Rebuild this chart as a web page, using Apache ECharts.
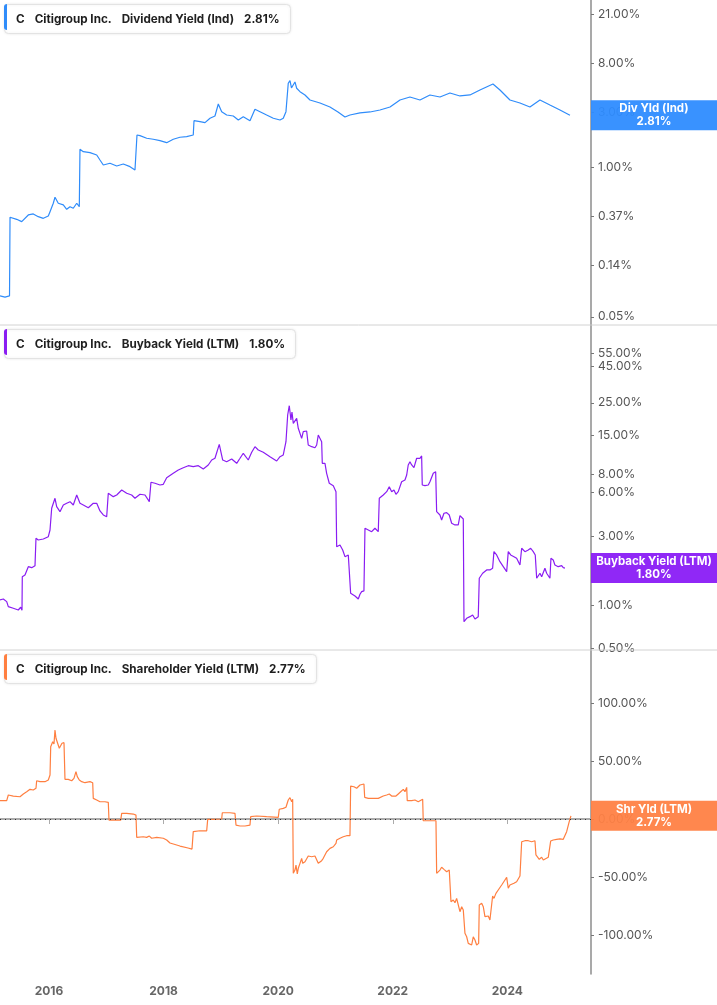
<!DOCTYPE html>
<html><head><meta charset="utf-8">
<script src="https://cdn.jsdelivr.net/npm/echarts@6/dist/echarts.min.js"></script>
<style>html,body{margin:0;padding:0;background:#fff}#c{width:717px;height:1005px}</style>
</head><body><div id="c"></div>
<script>
// ---------- DATA ----------
const companyTicker = 'C';
const companyName = 'Citigroup Inc.';
const seriesNames = ['Dividend Yield (Ind)', 'Buyback Yield (LTM)', 'Shareholder Yield (LTM)'];
const shortNames = ['Div Yld (Ind)', 'Buyback Yield (LTM)', 'Shr Yld (LTM)'];
const lastValues = [2.81, 1.80, 2.77];
const yearTicks = [2016, 2018, 2020, 2022, 2024];
const divTicks = [0.05, 0.14, 0.37, 1, 3, 8, 21];
const bbTicks = [0.5, 1, 3, 6, 8, 15, 25, 45, 55];
const shTicks = [-100, -50, 0, 50, 100];

const divYears = [2015.145,2015.232,2015.311,2015.320,2015.436,2015.524,2015.552,2015.639,2015.726,2015.813,2015.901,2015.988,2016.018,2016.075,2016.105,2016.162,2016.250,2016.309,2016.367,2016.424,2016.484,2016.529,2016.541,2016.599,2016.716,2016.833,2016.890,2016.948,2017.065,2017.182,2017.297,2017.414,2017.501,2017.527,2017.536,2017.588,2017.705,2017.820,2017.937,2018.054,2018.169,2018.286,2018.403,2018.518,2018.531,2018.635,2018.723,2018.810,2018.897,2018.955,2019.014,2019.101,2019.217,2019.304,2019.391,2019.508,2019.595,2019.683,2019.799,2019.915,2020.032,2020.089,2020.136,2020.176,2020.206,2020.232,2020.264,2020.293,2020.323,2020.381,2020.468,2020.555,2020.730,2020.904,2021.044,2021.166,2021.253,2021.428,2021.603,2021.777,2021.952,2022.126,2022.300,2022.475,2022.649,2022.824,2022.998,2023.173,2023.347,2023.522,2023.749,2023.871,2024.045,2024.220,2024.394,2024.569,2024.743,2024.918,2025.093];
const divValues = [0.076,0.074,0.076,0.366,0.351,0.335,0.346,0.383,0.391,0.370,0.358,0.375,0.409,0.484,0.546,0.484,0.468,0.429,0.452,0.438,0.484,0.452,1.425,1.358,1.331,1.271,1.150,1.041,1.077,1.020,1.062,1.006,0.942,0.974,1.896,1.870,1.775,1.740,1.692,1.626,1.740,1.811,1.833,1.896,2.524,2.474,2.425,2.649,2.773,3.525,3.022,2.829,2.773,2.560,2.735,2.524,3.171,3.022,2.829,2.649,2.560,2.649,3.022,5.333,5.618,4.855,4.665,5.474,4.826,4.509,4.221,3.819,3.597,3.320,3.004,2.718,2.829,2.945,3.004,3.127,3.320,3.819,4.055,3.819,4.221,4.055,4.393,4.137,4.221,4.665,5.259,4.665,3.819,3.597,3.320,3.819,3.456,3.127,2.81];

const bbYears = [2015.145,2015.203,2015.262,2015.290,2015.377,2015.464,2015.506,2015.529,2015.534,2015.581,2015.639,2015.698,2015.756,2015.773,2015.813,2015.901,2015.988,2016.018,2016.047,2016.105,2016.134,2016.192,2016.250,2016.309,2016.367,2016.424,2016.484,2016.541,2016.599,2016.686,2016.773,2016.833,2016.890,2016.948,2017.007,2017.035,2017.122,2017.182,2017.269,2017.356,2017.443,2017.501,2017.588,2017.676,2017.751,2017.780,2017.850,2017.937,2017.995,2018.054,2018.169,2018.257,2018.344,2018.431,2018.518,2018.606,2018.693,2018.780,2018.840,2018.897,2018.972,2019.032,2019.101,2019.189,2019.276,2019.334,2019.391,2019.478,2019.538,2019.595,2019.653,2019.740,2019.857,2019.974,2020.032,2020.089,2020.136,2020.166,2020.194,2020.223,2020.241,2020.264,2020.276,2020.323,2020.351,2020.381,2020.410,2020.438,2020.497,2020.525,2020.585,2020.642,2020.672,2020.700,2020.730,2020.759,2020.770,2020.817,2020.846,2020.892,2020.962,2020.991,2021.009,2021.021,2021.079,2021.126,2021.166,2021.224,2021.253,2021.265,2021.341,2021.398,2021.428,2021.457,2021.497,2021.515,2021.573,2021.632,2021.689,2021.747,2021.765,2021.834,2021.894,2021.939,2021.981,2022.021,2022.056,2022.096,2022.155,2022.213,2022.243,2022.270,2022.300,2022.330,2022.370,2022.417,2022.475,2022.504,2022.515,2022.562,2022.620,2022.649,2022.679,2022.707,2022.749,2022.766,2022.824,2022.853,2022.894,2022.941,2022.986,2023.028,2023.086,2023.143,2023.173,2023.203,2023.231,2023.243,2023.290,2023.347,2023.394,2023.435,2023.492,2023.510,2023.569,2023.639,2023.696,2023.743,2023.766,2023.813,2023.871,2023.929,2023.988,2024.016,2024.058,2024.115,2024.162,2024.220,2024.250,2024.307,2024.365,2024.407,2024.452,2024.487,2024.512,2024.540,2024.569,2024.599,2024.656,2024.686,2024.714,2024.743,2024.761,2024.801,2024.830,2024.888,2024.948,2024.976,2025.005];
const bbValues = [1.083,1.100,1.054,0.973,0.949,0.923,0.964,0.919,1.569,1.612,1.840,1.811,1.870,2.892,2.815,2.860,2.967,3.301,4.664,5.469,4.784,4.417,4.914,5.049,5.180,4.914,5.764,5.049,4.914,4.708,5.049,5.049,4.468,4.192,4.080,5.922,5.612,5.764,6.243,5.922,5.764,5.469,5.829,5.764,5.180,7.056,6.945,6.760,6.834,7.593,8.143,8.580,8.903,9.190,9.045,9.190,8.720,9.295,10.06,10.34,12.92,10.06,9.796,10.23,9.545,10.34,11.20,10.06,11.38,12.44,11.80,11.38,10.60,9.904,10.60,10.90,13.47,20.60,23.89,19.03,21.61,18.05,17.57,19.55,16.67,16.23,14.21,15.80,15.97,12.78,12.44,12.24,12.78,14.98,14.58,13.47,9.545,9.545,8.143,6.945,6.686,6.580,6.075,2.530,2.600,2.401,2.158,2.217,2.158,1.205,1.154,1.100,1.186,1.236,1.250,3.391,3.301,3.213,3.391,3.213,5.469,5.764,6.075,6.580,6.075,6.243,5.829,6.075,7.122,7.316,7.925,9.295,9.796,9.295,8.903,10.34,10.34,10.73,6.760,6.686,6.760,7.122,6.945,8.143,8.354,4.417,4.192,3.870,4.306,4.349,4.192,3.673,3.575,3.575,4.145,4.192,3.932,0.766,0.809,0.830,0.853,0.800,0.830,1.530,1.657,1.746,1.746,1.794,2.337,2.217,1.993,1.840,1.699,2.337,2.217,2.158,2.104,1.891,2.467,2.337,2.401,2.467,2.337,2.217,1.530,1.569,1.657,1.569,1.794,1.657,1.631,1.530,2.104,2.048,1.891,1.840,1.870,1.811,1.80];

const shYears = [2015.145,2015.262,2015.290,2015.377,2015.494,2015.552,2015.611,2015.669,2015.726,2015.773,2015.785,2015.843,2015.930,2015.988,2016.018,2016.030,2016.065,2016.087,2016.105,2016.122,2016.145,2016.180,2016.204,2016.227,2016.262,2016.279,2016.309,2016.337,2016.367,2016.396,2016.436,2016.471,2016.494,2016.529,2016.571,2016.628,2016.716,2016.763,2016.773,2016.833,2016.890,2016.977,2017.035,2017.047,2017.122,2017.252,2017.269,2017.356,2017.472,2017.518,2017.531,2017.646,2017.705,2017.751,2017.792,2017.880,2017.995,2018.054,2018.112,2018.286,2018.426,2018.496,2018.518,2018.635,2018.752,2018.770,2018.867,2019.014,2019.025,2019.159,2019.246,2019.264,2019.334,2019.421,2019.508,2019.520,2019.625,2019.799,2020.002,2020.019,2020.089,2020.136,2020.176,2020.206,2020.236,2020.253,2020.264,2020.293,2020.311,2020.334,2020.351,2020.381,2020.410,2020.428,2020.468,2020.497,2020.525,2020.585,2020.642,2020.672,2020.700,2020.730,2020.759,2020.787,2020.817,2020.846,2020.904,2020.962,2021.009,2021.021,2021.079,2021.136,2021.195,2021.253,2021.265,2021.323,2021.370,2021.398,2021.428,2021.457,2021.497,2021.510,2021.573,2021.660,2021.747,2021.834,2021.894,2021.939,2021.981,2022.009,2022.056,2022.096,2022.138,2022.184,2022.213,2022.243,2022.253,2022.330,2022.387,2022.445,2022.522,2022.532,2022.649,2022.754,2022.766,2022.824,2022.853,2022.894,2022.941,2022.986,2023.011,2023.016,2023.056,2023.086,2023.115,2023.143,2023.173,2023.203,2023.231,2023.260,2023.290,2023.318,2023.347,2023.377,2023.405,2023.435,2023.464,2023.499,2023.510,2023.552,2023.580,2023.609,2023.639,2023.667,2023.696,2023.726,2023.743,2023.766,2023.801,2023.841,2023.901,2023.958,2023.988,2024.016,2024.045,2024.075,2024.115,2024.162,2024.220,2024.238,2024.250,2024.307,2024.365,2024.424,2024.482,2024.499,2024.522,2024.557,2024.599,2024.627,2024.656,2024.714,2024.743,2024.756,2024.801,2024.860,2024.918,2024.976,2025.005,2025.035,2025.080,2025.110];
const shValues = [15.8,15.8,20.7,19.8,19.2,21.6,23.5,25.6,25.0,26.5,33.0,32.2,32.2,33.6,37.9,62.3,66.6,64.7,76.7,69.6,68.1,61.0,59.5,65.3,65.8,34.2,35.1,34.2,35.9,33.0,35.1,40.8,36.5,33.6,32.2,31.3,32.2,31.3,17.8,16.4,14.9,14.9,14.4,-0.9,-0.9,-0.9,4.9,4.9,4.3,3.4,-15.8,-15.3,-15.8,-14.7,-16.6,-15.8,-16.6,-18.1,-20.7,-23.3,-25.0,-25.9,-10.9,-10.1,-10.3,-0.3,-0.3,0.0,5.4,5.4,4.9,-5.2,-6.0,-6.0,-5.2,2.0,2.6,2.0,1.5,8.4,9.2,10.1,16.4,18.4,14.9,17.0,-46.8,-44.0,-39.7,-47.4,-42.5,-38.2,-33.9,-38.2,-36.8,-38.2,-31.9,-32.5,-31.9,-33.0,-38.2,-37.7,-35.9,-33.9,-33.9,-28.2,-25.3,-23.9,-20.9,-18.1,-16.6,-15.3,-14.4,-14.4,28.4,27.8,26.5,25.6,29.3,29.3,30.2,18.7,17.8,17.8,17.8,19.8,20.7,21.6,19.8,20.7,19.8,21.6,23.5,25.6,23.5,27.3,15.8,15.8,16.4,14.9,17.0,-1.5,-1.5,-1.5,-46.8,-44.0,-41.6,-43.4,-45.4,-44.0,-42.8,-71.3,-69.8,-72.2,-68.4,-69.2,-79.9,-75.6,-78.4,-98.5,-101.5,-107.2,-105.8,-108.6,-101.5,-104.3,-108.6,-107.2,-74.1,-72.7,-75.6,-84.2,-85.6,-83.6,-87.1,-88.5,-66.4,-68.4,-64.1,-61.2,-56.9,-52.6,-50.3,-59.7,-56.9,-57.8,-55.4,-54.1,-49.1,-49.1,-19.6,-18.7,-18.7,-19.6,-18.7,-31.0,-31.9,-34.7,-33.0,-35.3,-33.9,-33.0,-32.5,-19.0,-18.1,-17.5,-17.2,-17.5,-16.6,-10.9,-2.3,2.77];

// ---------- STYLE / LAYOUT ----------
const colors = ['#2F8CFA', '#8A1DF2', '#FF7F40'];
const boxColors = ['#2E8CFF', '#8A1CF5', '#FF8145'];
const FONT = 'Inter';
const W = 717, PLOT_RIGHT = 126;
const panelTop = [0, 325, 650];
const panelH = [325, 325, 324];
const xMin = 2015.145, xMax = 2025.46;
const yRanges = [[0.0424, 28.2], [0.488, 86.4], [-133.6, 145.7]];
const tickSets = [divTicks, bbTicks, shTicks];
const yearsSets = [divYears, bbYears, shYears];
const valueSets = [divValues, bbValues, shValues];

const zip = (a, b) => a.map((x, i) => [x, b[i]]);
const fmtPct = v => Number(v).toFixed(2) + '%';

const chart = echarts.init(document.getElementById('c'), null, {renderer: 'canvas'});

const grids = panelTop.map((t, i) => ({left: 0, right: PLOT_RIGHT, top: t, height: panelH[i]}));
const xAxes = [0, 1, 2].map(i => ({
  type: 'value', gridIndex: i, min: xMin, max: xMax,
  show: i === 2,
  axisLine: {show: true, lineStyle: {color: '#ababab', width: 2}},
  axisTick: {show: true, customValues: yearTicks, length: 5, lineStyle: {color: '#ababab', width: 1}},
  axisLabel: {show: true, customValues: yearTicks, formatter: v => String(Math.round(v)),
    color: '#666', fontFamily: FONT, fontWeight: 'bold', fontSize: 12, margin: 11},
  splitLine: {show: false}
}));
const yAxes = [0, 1, 2].map(i => ({
  type: i < 2 ? 'log' : 'value', gridIndex: i, position: 'right',
  min: yRanges[i][0], max: yRanges[i][1],
  axisLine: {show: true, lineStyle: {color: '#8d8d8d', width: 1.5}},
  axisTick: {show: true, customValues: tickSets[i], length: 3, lineStyle: {color: '#777'}},
  axisLabel: {show: true, customValues: tickSets[i], formatter: fmtPct,
    color: '#555', fontFamily: FONT, fontSize: 12, margin: 7},
  splitLine: {show: false}
}));
const series = [0, 1, 2].map(i => ({
  type: 'line', xAxisIndex: i, yAxisIndex: i,
  data: zip(yearsSets[i], valueSets[i]),
  showSymbol: false, symbol: 'none',
  lineStyle: {color: colors[i], width: 1.2},
  z: 3,
  markLine: i === 2 ? {silent: true, symbol: 'none', label: {show: false},
    lineStyle: {color: '#333', width: 1, type: [1, 4]}, data: [{yAxis: 0}]} : undefined
}));
const titles = [0, 1, 2].map(i => ({
  left: 4, top: panelTop[i] + 4,
  padding: [6, 11, 6, 12],
  backgroundColor: '#fff', borderColor: '#e3e3e3', borderWidth: 1, borderRadius: 4,
  shadowBlur: 3, shadowColor: 'rgba(0,0,0,0.08)',
  text: `{b|${companyTicker}}{g|}{b|${companyName}}{g|}{r|${seriesNames[i]}}{g|}{b|${fmtPct(lastValues[i])}}`,
  textStyle: {rich: {
    b: {fontFamily: FONT, fontWeight: 'bold', fontSize: 11.7, color: '#1d1d1d', lineHeight: 14},
    r: {fontFamily: FONT, fontSize: 11.7, color: '#222', lineHeight: 14},
    g: {width: 10}
  }}
}));

chart.setOption({
  animation: false,
  backgroundColor: '#fff',
  title: titles,
  grid: grids, xAxis: xAxes, yAxis: yAxes, series
});

// overlay: separators, legend colour bars, end-value tags (positioned via the chart's own scales)
const graphics = [];
[325, 650].forEach(y => graphics.push({type: 'line', silent: true, z: 1,
  shape: {x1: 0, y1: y, x2: W, y2: y}, style: {stroke: '#d2d2d2', lineWidth: 1}}));
[0, 1, 2].forEach(i => {
  graphics.push({type: 'rect', z: 20, shape: {x: 4, y: panelTop[i] + 4, width: 3, height: 26, r: [3, 0, 0, 3]},
    style: {fill: colors[i]}});
  const ys = yearsSets[i], vs = valueSets[i];
  const p = chart.convertToPixel({gridIndex: i}, [ys[ys.length - 1], vs[vs.length - 1]]);
  const gx = W - PLOT_RIGHT;
  graphics.push({type: 'rect', z: 30, shape: {x: gx, y: p[1] - 15, width: PLOT_RIGHT, height: 30},
    style: {fill: boxColors[i], opacity: 0.95}});
  graphics.push({type: 'text', z: 31, x: gx + PLOT_RIGHT / 2, y: p[1],
    style: {text: shortNames[i] + '\n' + fmtPct(lastValues[i]), fill: '#fff', font: 'bold 11.5px Inter',
      align: 'center', verticalAlign: 'middle', lineHeight: 13}});
});
chart.setOption({graphic: graphics});
</script></body></html>
